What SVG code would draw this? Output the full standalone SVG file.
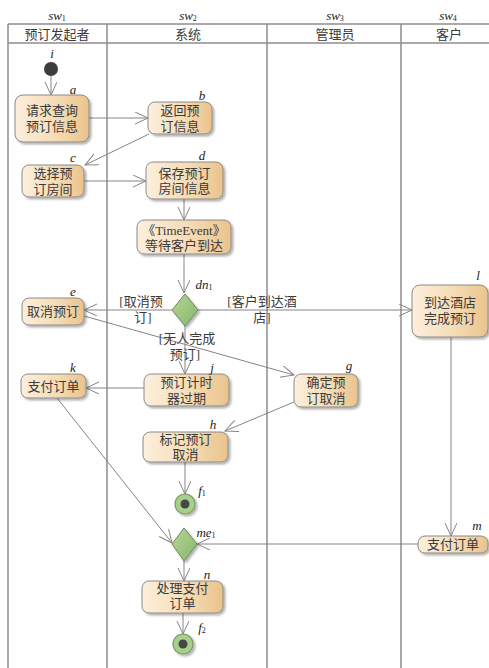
<svg xmlns="http://www.w3.org/2000/svg" width="489" height="668" viewBox="0 0 489 668">
<defs>
<linearGradient id="ng" x1="0" y1="0" x2="1" y2="0">
<stop offset="0" stop-color="#fcefdc"/>
<stop offset="0.55" stop-color="#f5dcb6"/>
<stop offset="1" stop-color="#eac38c"/>
</linearGradient>
<linearGradient id="dg" x1="0" y1="0" x2="1" y2="1">
<stop offset="0" stop-color="#b5d696"/>
<stop offset="1" stop-color="#8ab56a"/>
</linearGradient>
<filter id="sh" x="-20%" y="-20%" width="150%" height="160%">
<feDropShadow dx="2" dy="2" stdDeviation="1.2" flood-color="#000" flood-opacity="0.3"/>
</filter>
<marker id="arr" markerWidth="16" markerHeight="14" refX="13" refY="6" orient="auto" markerUnits="userSpaceOnUse">
<path d="M0,0 L13,6 L0,12" fill="none" stroke="#858585" stroke-width="1"/>
</marker>
</defs>
<style>
.lane{stroke:#8c8c8c;stroke-width:1.5;fill:none}
.node{fill:url(#ng);stroke:#8a8a8a;stroke-width:1;filter:url(#sh)}
.t{font-family:"Liberation Serif","Noto Sans CJK SC",serif;font-size:13px;fill:#3a3a3a;text-anchor:middle;dominant-baseline:central}
.h{font-family:"Liberation Serif","Noto Sans CJK SC",serif;font-size:13px;fill:#3a3a3a;text-anchor:middle;dominant-baseline:central}
.lb{font-family:"Liberation Serif",serif;font-style:italic;font-size:13px;fill:#222;text-anchor:middle;dominant-baseline:central}
.sub{font-size:8px;font-style:normal}
.g{font-family:"Liberation Serif","Noto Sans CJK SC",serif;font-size:13px;fill:#3a3a3a;text-anchor:middle;dominant-baseline:central}
.c{stroke:#858585;stroke-width:1;fill:none;marker-end:url(#arr)}
.dia{fill:url(#dg);stroke:#6f8a5c;stroke-width:1;filter:url(#sh)}
.fo{fill:#a9cf8c;stroke:#7c9868;stroke-width:1.2;filter:url(#sh)}
.fi{fill:#474747}
</style>
<rect width="489" height="668" fill="#fff"/>
<g id="lanes">
<line class="lane" x1="8" y1="24" x2="489" y2="24"/>
<line class="lane" x1="8" y1="43" x2="489" y2="43"/>
<line class="lane" x1="8" y1="24" x2="8" y2="668"/>
<line class="lane" x1="107" y1="24" x2="107" y2="668"/>
<line class="lane" x1="267" y1="24" x2="267" y2="668"/>
<line class="lane" x1="401" y1="24" x2="401" y2="668"/>
<text class="lb" x="57" y="15">sw<tspan class="sub" dy="3">1</tspan></text>
<text class="lb" x="188" y="15">sw<tspan class="sub" dy="3">2</tspan></text>
<text class="lb" x="335" y="15">sw<tspan class="sub" dy="3">3</tspan></text>
<text class="lb" x="448" y="15">sw<tspan class="sub" dy="3">4</tspan></text>
<text class="h" x="57" y="34">预订发起者</text>
<text class="h" x="188" y="34">系统</text>
<text class="h" x="335" y="34">管理员</text>
<text class="h" x="449" y="34">客户</text>
</g>
<g id="connectors">
<line class="c" x1="51" y1="76" x2="51" y2="95"/>
<line class="c" x1="89" y1="118" x2="148" y2="118"/>
<line class="c" x1="149" y1="134" x2="85" y2="165"/>
<line class="c" x1="84" y1="181" x2="146" y2="181"/>
<line class="c" x1="184" y1="199" x2="184" y2="220"/>
<line class="c" x1="184" y1="254" x2="184" y2="293"/>
<line class="c" x1="172" y1="310" x2="84" y2="310"/>
<line class="c" x1="198" y1="310" x2="412" y2="310"/>
<line class="c" x1="185" y1="326" x2="185" y2="374"/>
<line class="c" x1="84" y1="316" x2="294" y2="375"/>
<line class="c" x1="144" y1="388" x2="86" y2="388"/>
<line class="c" x1="294" y1="402" x2="225" y2="431"/>
<line class="c" x1="57" y1="398" x2="172" y2="543"/>
<line class="c" x1="185" y1="462" x2="185" y2="494"/>
<line class="c" x1="451" y1="337" x2="451" y2="536"/>
<line class="c" x1="418" y1="544" x2="197" y2="544"/>
<line class="c" x1="184" y1="561" x2="184" y2="581"/>
<line class="c" x1="183" y1="613" x2="183" y2="634"/>
<text class="g" x="141" y="301">[取消预<tspan x="143" dy="16">订]</tspan></text>
<text class="g" x="262" y="301">[客户到达酒<tspan x="262" dy="16">店]</tspan></text>
<text class="g" x="187" y="338">[无人完成<tspan x="185" dy="16">预订]</tspan></text>
</g>
<g id="i">
<circle cx="51" cy="69" r="7" fill="#3d3d3d"/>
<text class="lb" x="52" y="53">i</text>
</g>
<g id="a">
<rect class="node" x="15" y="95" width="74" height="47" rx="8"/>
<text class="t" x="52" y="110">请求查询<tspan x="52" dy="16">预订信息</tspan></text>
<text class="lb" x="73" y="89">a</text>
</g>
<g id="b">
<rect class="node" x="148" y="102" width="64" height="32" rx="7"/>
<text class="t" x="180" y="110.5">返回预<tspan x="180" dy="15">订信息</tspan></text>
<text class="lb" x="202" y="95">b</text>
</g>
<g id="c">
<rect class="node" x="22" y="165" width="62" height="32" rx="7"/>
<text class="t" x="53" y="173.5">选择预<tspan x="53" dy="15">订房间</tspan></text>
<text class="lb" x="73" y="157">c</text>
</g>
<g id="d">
<rect class="node" x="146" y="162" width="77" height="37" rx="7"/>
<text class="t" x="184.5" y="173">保存预订<tspan x="184.5" dy="15">房间信息</tspan></text>
<text class="lb" x="202" y="155">d</text>
</g>
<g id="timeevent">
<rect class="node" x="137" y="220" width="94" height="34" rx="7"/>
<text class="t" x="184" y="230">《TimeEvent》<tspan x="184" dy="15">等待客户到达</tspan></text>
</g>
<g id="dn1">
<polygon class="dia" points="185,294 198,310 185,326 172,310"/>
<text class="lb" x="204" y="284">dn<tspan class="sub" dy="3">1</tspan></text>
</g>
<g id="e">
<rect class="node" x="22" y="298" width="62" height="27" rx="7"/>
<text class="t" x="53" y="311.5">取消预订</text>
<text class="lb" x="73" y="291">e</text>
</g>
<g id="l">
<rect class="node" x="412" y="285" width="76" height="52" rx="8"/>
<text class="t" x="450" y="302">到达酒店<tspan x="450" dy="16">完成预订</tspan></text>
<text class="lb" x="478" y="275">l</text>
</g>
<g id="g">
<rect class="node" x="294" y="374" width="64" height="33" rx="7"/>
<text class="t" x="326" y="382">确定预<tspan x="326" dy="16">订取消</tspan></text>
<text class="lb" x="349" y="365">g</text>
</g>
<g id="j">
<rect class="node" x="144" y="374" width="85" height="32" rx="7"/>
<text class="t" x="186.5" y="382">预订计时<tspan x="186.5" dy="16">器过期</tspan></text>
<text class="lb" x="212" y="367">j</text>
</g>
<g id="k">
<rect class="node" x="21" y="374" width="65" height="24" rx="7"/>
<text class="t" x="53.5" y="386">支付订单</text>
<text class="lb" x="73" y="367">k</text>
</g>
<g id="h">
<rect class="node" x="143" y="432" width="85" height="30" rx="7"/>
<text class="t" x="185.5" y="439">标记预订<tspan x="185.5" dy="15">取消</tspan></text>
<text class="lb" x="213" y="424">h</text>
</g>
<g id="f1">
<circle class="fo" cx="185" cy="504" r="10"/>
<circle class="fi" cx="185" cy="504" r="4.5"/>
<text class="lb" x="202" y="490">f<tspan class="sub" dy="3">1</tspan></text>
</g>
<g id="me1">
<polygon class="dia" points="184,528 197,544 184,561 172,544"/>
<text class="lb" x="206" y="532">me<tspan class="sub" dy="3">1</tspan></text>
</g>
<g id="m">
<rect class="node" x="418" y="536" width="70" height="17" rx="7"/>
<text class="t" x="453" y="544.5">支付订单</text>
<text class="lb" x="477" y="525">m</text>
</g>
<g id="n">
<rect class="node" x="142" y="581" width="81" height="32" rx="7"/>
<text class="t" x="182.5" y="588">处理支付<tspan x="182.5" dy="15">订单</tspan></text>
<text class="lb" x="207" y="574">n</text>
</g>
<g id="f2">
<circle class="fo" cx="183" cy="644" r="10"/>
<circle class="fi" cx="183" cy="644" r="4.5"/>
<text class="lb" x="202" y="627">f<tspan class="sub" dy="3">2</tspan></text>
</g>
</svg>
